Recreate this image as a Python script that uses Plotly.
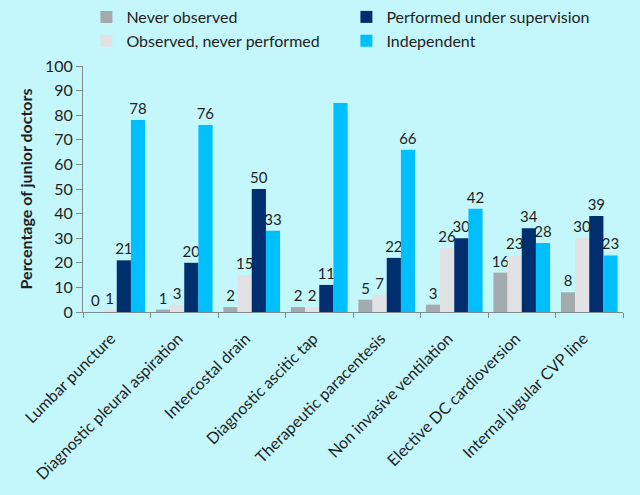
import plotly.graph_objects as go

categories = ["Lumbar puncture", "Diagnostic pleural aspiration", "Intercostal drain",
              "Diagnostic ascitic tap", "Therapeutic paracentesis", "Non invasive ventilation",
              "Elective DC cardioversion", "Internal jugular CVP line"]
never_observed = [0, 1, 2, 2, 5, 3, 16, 8]
observed_never_performed = [1, 3, 15, 2, 7, 26, 23, 30]
performed_supervision = [21, 20, 50, 11, 22, 30, 34, 39]
independent = [78, 76, 33, 85, 66, 42, 28, 23]
independent_labels = ["78", "76", "33", "", "66", "42", "28", "23"]

series = [
    ("Never observed", never_observed, [str(v) for v in never_observed], "#a3abae", 1),
    ("Observed, never performed", observed_never_performed, [str(v) for v in observed_never_performed], "#e2e2e4", 3),
    ("Performed under supervision", performed_supervision, [str(v) for v in performed_supervision], "#002e6e", 2),
    ("Independent", independent, independent_labels, "#00bfff", 4),
]

FONT = "Lato"
TXT = "#1e1e1e"
bg = "#c4f7fc"

fig = go.Figure()
for name, vals, labels, color, rank in series:
    fig.add_trace(go.Bar(
        name=name, x=categories, y=vals, text=labels, textposition="outside",
        textfont=dict(size=15, color=TXT, family=FONT), constraintext="none",
        marker=dict(color=color, line=dict(width=0)),
        cliponaxis=False, legendrank=rank,
    ))

fig.update_layout(
    width=640, height=495,
    paper_bgcolor=bg, plot_bgcolor=bg,
    barmode="group", bargap=0.16, bargroupgap=0,
    margin=dict(l=83, r=17, t=66, b=183, autoexpand=False),
    font=dict(family=FONT, size=15, color=TXT),
    showlegend=True,
    legend=dict(orientation="h", x=0.135, y=1.0, xref="container", yref="container",
                xanchor="left", yanchor="top",
                entrywidth=215, entrywidthmode="pixels",
                font=dict(size=16, family=FONT, color=TXT),
                bgcolor="rgba(0,0,0,0)", itemwidth=30, tracegroupgap=0),
)
fig.update_yaxes(range=[0, 100], dtick=10, showgrid=False, zeroline=False,
                 showline=True, linecolor="#7f8a8c", linewidth=1,
                 ticks="outside", ticklen=6, tickcolor="#7f8a8c", automargin=False,
                 tickfont=dict(size=16, family=FONT, color=TXT),
                 title=dict(text="<b>Percentage of junior doctors</b>",
                            font=dict(size=16, family=FONT, color=TXT), standoff=8))
fig.update_xaxes(showgrid=False, showline=True, linecolor="#7f8a8c", linewidth=1,
                 ticks="outside", ticklen=5, tickcolor="#7f8a8c", tickson="boundaries",
                 tickangle=-45, automargin=False, ticklabelstandoff=10, ticklabelshift=-6,
                 tickfont=dict(size=16, family=FONT, color=TXT))

fig.write_html("out.html", config={"displayModeBar": False},
               post_script="document.body.style.margin='0px';document.body.style.background='%s';" % bg)
